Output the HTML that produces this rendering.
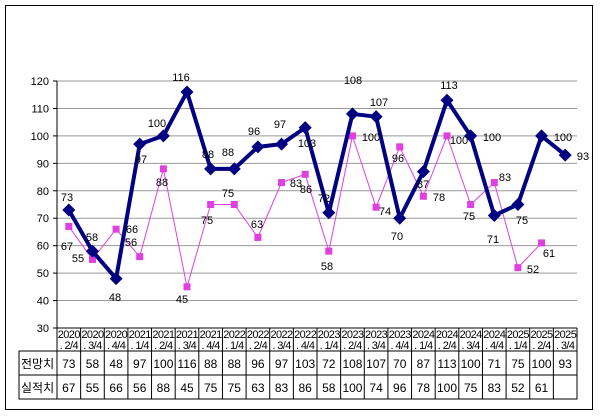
<!DOCTYPE html>
<html><head><meta charset="utf-8"><style>
html,body{margin:0;padding:0;background:#fff;}
svg{display:block;font-family:"Liberation Sans","Noto Sans CJK KR",sans-serif;}
</style></head><body>
<svg id="s" width="600" height="419" xmlns="http://www.w3.org/2000/svg"></svg>
<script>
const s=document.getElementById('s');
let h='';
h+='<rect x="0" y="0" width="600" height="419" fill="#fff"/>';
h+='<rect x="5.5" y="5.5" width="587" height="404" fill="none" stroke="#000" stroke-width="1"/>';
const L=57,R=577,T=81,B=328,W=(R-L)/22;
const Y=v=>B-(v-30)*(B-T)/90;
for(let v=30;v<=120;v+=10){const y=Y(v);
 h+=`<line x1="${L}" x2="${R}" y1="${y}" y2="${y}" stroke="#999" stroke-width="1"/>`;
 h+=`<line x1="${L-4}" x2="${L}" y1="${y}" y2="${y}" stroke="#000"/>`;
 h+=`<text x="${L-8}" y="${y+4}" font-size="11" text-anchor="end">${v}</text>`;}
h+=`<line x1="${L}" x2="${L}" y1="${T}" y2="${B}" stroke="#000"/>`;
const cats=["2020|. 2/4","2020|. 3/4","2020|. 4/4","2021|. 1/4","2021|. 2/4","2021|. 3/4","2021|. 4/4","2022|. 1/4","2022|. 2/4","2022|. 3/4","2022|. 4/4","2023|. 1/4","2023|. 2/4","2023|. 3/4","2023|. 4/4","2024|. 1/4","2024|. 2/4","2024|. 3/4","2024|. 4/4","2025|. 1/4","2025|. 2/4","2025|. 3/4"];
const f=[73,58,48,97,100,116,88,88,96,97,103,72,108,107,70,87,113,100,71,75,100,93];
const a=[67,55,66,56,88,45,75,75,63,83,86,58,100,74,96,78,100,75,83,52,61,null];
const r0=B,r1=351,r2=375,r3=399,tl=19;
h+=`<rect x="${tl}" y="${r1}" width="${R-tl}" height="${r3-r1}" fill="none" stroke="#000"/>`;
h+=`<line x1="${L}" x2="${R}" y1="${r0}" y2="${r0}" stroke="#000"/>`;
h+=`<line x1="${L}" x2="${L}" y1="${r0}" y2="${r3}" stroke="#000"/>`;
h+=`<line x1="${R}" x2="${R}" y1="${r0}" y2="${r3}" stroke="#000"/>`;
h+=`<line x1="${tl}" x2="${R}" y1="${r2}" y2="${r2}" stroke="#000"/>`;
h+=`<text x="${tl+2}" y="${r1+17}" font-size="12">전망치</text>`;
h+=`<text x="${tl+2}" y="${r2+17}" font-size="12">실적치</text>`;
for(let i=0;i<22;i++){const x0=L+W*i,cx=x0+W/2;
 if(i>0)h+=`<line x1="${x0}" x2="${x0}" y1="${r0}" y2="${r3}" stroke="#000"/>`;
 const c=cats[i].split('|');
 h+=`<text x="${cx}" y="${r0+10}" font-size="11" text-anchor="middle" letter-spacing="-0.6">${c[0]}</text>`;
 h+=`<text x="${cx}" y="${r0+21}" font-size="11" text-anchor="middle" letter-spacing="-0.6">${c[1]}</text>`;
 h+=`<text x="${cx}" y="${r1+17}" font-size="12" text-anchor="middle">${f[i]}</text>`;
 if(a[i]!=null)h+=`<text x="${cx}" y="${r2+17}" font-size="12" text-anchor="middle">${a[i]}</text>`;}
let pa='',pf='';
for(let i=0;i<22;i++){const cx=L+W*(i+0.5);
 if(a[i]!=null)pa+=(pa?'L':'M')+cx+','+Y(a[i]);
 pf+=(i?'L':'M')+cx+','+Y(f[i]);}
h+=`<path d="${pa}" fill="none" stroke="#e040e0" stroke-width="1"/>`;
for(let i=0;i<22;i++){if(a[i]==null)continue;const cx=L+W*(i+0.5),y=Y(a[i]);
 h+=`<rect x="${cx-3.5}" y="${y-3.5}" width="7" height="7" fill="#e040e0"/>`;}
h+=`<path d="${pf}" fill="none" stroke="#000080" stroke-width="4" stroke-linejoin="round"/>`;
for(let i=0;i<22;i++){const cx=L+W*(i+0.5),y=Y(f[i]);
 h+=`<path d="M${cx},${y-6.5}L${cx+6.5},${y}L${cx},${y+6.5}L${cx-6.5},${y}Z" fill="#000080"/>`;}
const lf=[[67,201],[92,241],[115,301],[141,163],[157,127],[181,81],[208,158],[228,156],[254,135],[280,128],[307,147],[324,202],[353,84],[379,106],[397,240],[423,188],[449,89],[492,141],[493,243],[522,224],[563,141],[583,160]];
const la=[[67,250],[78,262],[132,233],[131,246],[162,186],[182,303],[207,224],[228,197],[257,228],[296,187],[306,193],[327,270],[371,141],[385,215],[398,162],[439,201],[459,144],[469,220],[505,181],[533,273],[549,257]];
const lav=a.filter(v=>v!=null);
lf.forEach((p,i)=>h+=`<text x="${p[0]}" y="${p[1]}" font-size="11" text-anchor="middle">${f[i]}</text>`);
la.forEach((p,i)=>h+=`<text x="${p[0]}" y="${p[1]}" font-size="11" text-anchor="middle">${lav[i]}</text>`);
s.innerHTML=h;
</script>
</body></html>
